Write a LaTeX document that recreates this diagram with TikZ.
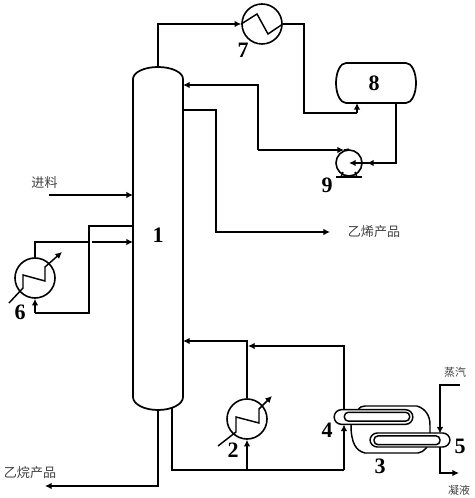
\documentclass[tikz,border=0pt]{standalone}
\usepackage{fontspec}
\setmainfont{Liberation Serif}
\newfontfamily\cjk{Noto Sans CJK SC}
\usetikzlibrary{arrows.meta}
\tikzset{
  px/.style={x=0.75pt,y=-0.75pt},
  pipe/.style={line width=1.1pt,line join=miter},
  flow/.style={pipe,-{Latex[length=5pt,width=5pt]}},
  wall/.style={line width=1.3pt},
  hx/.style={circle,draw,line width=1.2pt,inner sep=0pt,minimum size=30pt},
  tag/.style={font=\bfseries\fontsize{16.5}{18}\selectfont,inner sep=0pt},
  cn/.style={font=\cjk\fontsize{9.8}{11}\selectfont,text=black!75,inner sep=0pt},
  cns/.style={font=\cjk\fontsize{8.2}{10}\selectfont,text=black!75,inner sep=0pt},
  tube/.style={draw,fill=white,line width=1.1pt,inner sep=0pt},
  coil/.style={line width=1.1pt,line join=miter},
}
\begin{document}
\begin{tikzpicture}[px]
\useasboundingbox (0,0) rectangle (474,498);
% column
\coordinate (cTop) at (158,67);
\coordinate (cBot) at (158,410);
\draw[wall] (133,79) arc[start angle=180,end angle=360,x radius=25,y radius=12]
  -- (183,397) arc[start angle=0,end angle=180,x radius=25,y radius=13] -- cycle;
\node[tag] (n1) at (158,235) {1};
% exchangers, drum, pump
\node[hx] (hxseven) at (262,24) {};
\node[hx] (hxtwo) at (247,419) {};
\node[hx] (hxsix) at (35,278) {};
\node[hx,minimum size=19.5pt] (pump) at (349,163) {};
\draw[wall] (346,63) -- (406,63) arc[start angle=-90,end angle=90,x radius=10,y radius=20]
  -- (346,103) arc[start angle=90,end angle=270,x radius=10,y radius=20] -- cycle;
\node[tag,minimum width=60pt,minimum height=30pt] (drum) at (374,83) {8};
% coils
\draw[coil] (hxseven.west) -- (257,14) -- (268,34) -- (hxseven.east);
\draw[coil,-{Latex[length=5pt,width=5pt]}] (218,446) -- (236,432) -- (236,417) -- (259,423) -- (259,409) -- (272,396);
\draw[coil,-{Latex[length=5pt,width=5pt]}] (9,303) -- (23,288) -- (23,275) -- (45,281) -- (45,267) -- (62,252);
% pump base
\coordinate (bL) at (336,177); \coordinate (bR) at (362,177);
\draw[pipe] (bL) -- (bR);
\draw[pipe] (341,177) -- (343,172) (357,177) -- (355,172);
% reboiler shell
\draw[pipe] (358,410) .. controls (360,407) and (362,406) .. (365,406) -- (417,406)
  .. controls (426,409) and (430,416) .. (430,425) -- (430,437)
  .. controls (429,447) and (424,452) .. (418,453) -- (365,453)
  .. controls (356,451) and (351,443) .. (351,425);
% tubes
\node[tube,rounded corners=5.5pt,minimum width=59pt,minimum height=11pt] (tubeA) at (373.5,417) {};
\node[tube,rounded corners=3pt,minimum width=49pt,minimum height=6.6pt] (tubeAin) at (377,416.7) {};
\node[tube,rounded corners=5.5pt,minimum width=60pt,minimum height=10.5pt] (tubeB) at (410,440) {};
\node[tube,rounded corners=3pt,minimum width=49.5pt,minimum height=6.6pt] (tubeBin) at (407,440.3) {};
% connectors with named free ends
\coordinate (feed) at (49,195);
\coordinate (feedIn) at (133,195);
\draw[flow] (feed) -- (feedIn);
\draw[pipe] (133,226) -- (89,226) -- (89,313) -- (35,313);
\draw[flow] (35,313) -- (hxsix.south);
\draw[pipe] (hxsix.north) -- (35,242) -- (87.5,242);
\draw[flow] (91.5,242) -- (133,242);
\draw[flow] (cTop) -- (158,24) -- (hxseven.west);
\draw[pipe] (hxseven.east) -- (304,24) -- (304,113) -- (357,113);
\draw[flow] (357,113) -- (357,103);
\draw[pipe] (396,103) -- (396,163) -- (pump.east);
\draw[flow] (396,163) -- (367,163);
\draw[flow] (pump.east) -- (349,163);
\draw[flow] (258,150) -- (258,85) -- (183,85);
\draw[flow] (258,150) -- (344,150);
\draw[pipe] (344,150) -- (pump.north);
\draw[flow] (183,110) -- (216,110) -- (216,232) -- (330,232);
\draw[pipe] (172,408) -- (172,470) -- (344,470);
\draw[flow] (344,470) -- (344,424.5);
\draw[flow] (247,470) -- (hxtwo.south);
\draw[flow] (hxtwo.north) -- (247,341) -- (183,341);
\draw[flow] (344,409.5) -- (344,346) -- (248,346);
\draw[flow] (460,385) -- (440,385) -- (440,433.5);
\draw[flow] (440,447) -- (440,473) -- (459,473);
\draw[flow] (cBot) -- (158,486) -- (45,486);
% labels
\node[tag] (n2) at (233,450) {2};
\node[tag] (n3) at (380,466) {3};
\node[tag] (n4) at (327,430) {4};
\node[tag] (n5) at (460,446) {5};
\node[tag] (n6) at (20,312) {6};
\node[tag] (n7) at (243,50) {7};
\node[tag] (n9) at (327,185) {9};
\node[cn] (tfeed) at (44.5,183) {进料};
\node[cn] (tethene) at (374,232) {乙烯产品};
\node[cn] (tethane) at (30,473) {乙烷产品};
\node[cns] (tsteam) at (455,372) {蒸汽};
\node[cns] (tcond) at (459,490) {凝液};
\end{tikzpicture}
\end{document}
